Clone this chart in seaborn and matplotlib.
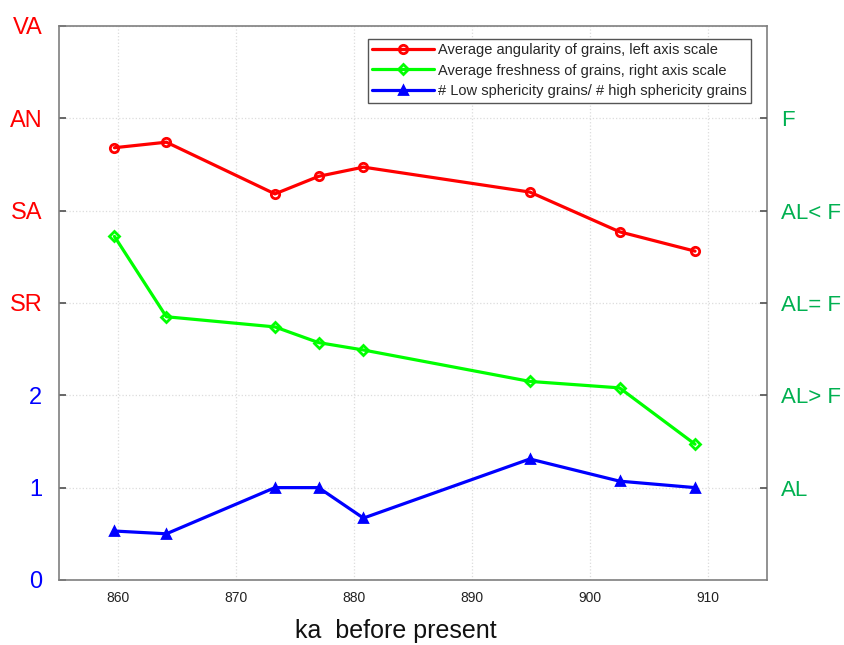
import matplotlib
matplotlib.use("Agg")
import matplotlib.pyplot as plt
import seaborn as sns

# Sample ages (ka before present)
ages = [859.7, 864.1, 873.3, 877.0, 880.8, 894.9, 902.5, 908.9]

# Series values
angularity = [4.68, 4.74, 4.18, 4.37, 4.47, 4.20, 3.77, 3.56]
freshness = [3.72, 2.85, 2.74, 2.57, 2.49, 2.15, 2.08, 1.47]
sphericity_ratio = [0.53, 0.50, 1.00, 1.00, 0.67, 1.31, 1.07, 1.00]

series_labels = [
    "Average angularity of grains, left axis scale",
    "Average freshness of grains, right axis scale",
    "# Low sphericity grains/ # high sphericity grains",
]

# Axis tick labels
left_ticks = [0, 1, 2, 3, 4, 5, 6]
left_labels = ["0", "1", "2", "SR", "SA", "AN", "VA"]
right_ticks = [1, 2, 3, 4, 5]
right_labels = ["AL", "AL> F", "AL= F", "AL< F", "F"]
x_ticks = [860, 870, 880, 890, 900, 910]

sns.set_theme(style="white")
plt.rcParams["font.family"] = ["Liberation Sans", "DejaVu Sans"]

fig = plt.figure(figsize=(8.45, 6.45), dpi=100)
ax = fig.add_axes([0.0698, 0.1008, 0.8379, 0.8592])

styles = [
    (angularity, "#ff0000", "o", "none", 6),
    (freshness, "#00ff00", "D", "none", 5),
    (sphericity_ratio, "#0000ff", "^", "#0000ff", 6),
]
for (vals, col, mk, fc, ms), lab in zip(styles, series_labels):
    sns.lineplot(x=ages, y=vals, color=col, marker=mk, markersize=ms,
                 markerfacecolor=fc, markeredgecolor=col, markeredgewidth=2,
                 linewidth=2.3, label=lab, ax=ax)

ax.set_xlim(855, 915)
ax.set_ylim(0, 6)
ax.set_xticks(x_ticks)
ax.set_yticks(left_ticks)
ax.set_yticklabels(left_labels)
for lab, c in zip(ax.get_yticklabels(), ["#0000ff"] * 3 + ["#ff0000"] * 4):
    lab.set_color(c)
    lab.set_fontsize(17)
ax.tick_params(axis="y", direction="in", length=5, pad=12, color="#555555")
ax.tick_params(axis="x", direction="in", length=5, labelsize=10, pad=8,
               color="#555555", labelcolor="#222222")
ax.grid(True, color="#dcdcdc", linestyle=":", linewidth=0.9)
ax.set_xlabel("ka  before present", fontsize=18, color="#111111")
ax.xaxis.set_label_coords(0.476, -0.07)
ax.set_ylabel("")
for sp in ax.spines.values():
    sp.set_color("#7f7f7f")
    sp.set_linewidth(1.2)

ax2 = ax.twinx()
ax2.set_ylim(0, 6)
ax2.set_yticks(right_ticks)
ax2.set_yticklabels(right_labels)
for lab in ax2.get_yticklabels():
    lab.set_color("#00b050")
    lab.set_fontsize(16)
ax2.tick_params(axis="y", direction="in", length=5, pad=10, color="#555555")
for sp in ax2.spines.values():
    sp.set_visible(False)

ax.legend(loc="upper right", fontsize=10.5, frameon=True, fancybox=False,
          edgecolor="#555555", framealpha=1, handlelength=4.2, handletextpad=0.3,
          borderpad=0.3, labelspacing=0.45, bbox_to_anchor=(0.988, 0.99))

fig.savefig("out.png", dpi=100)
